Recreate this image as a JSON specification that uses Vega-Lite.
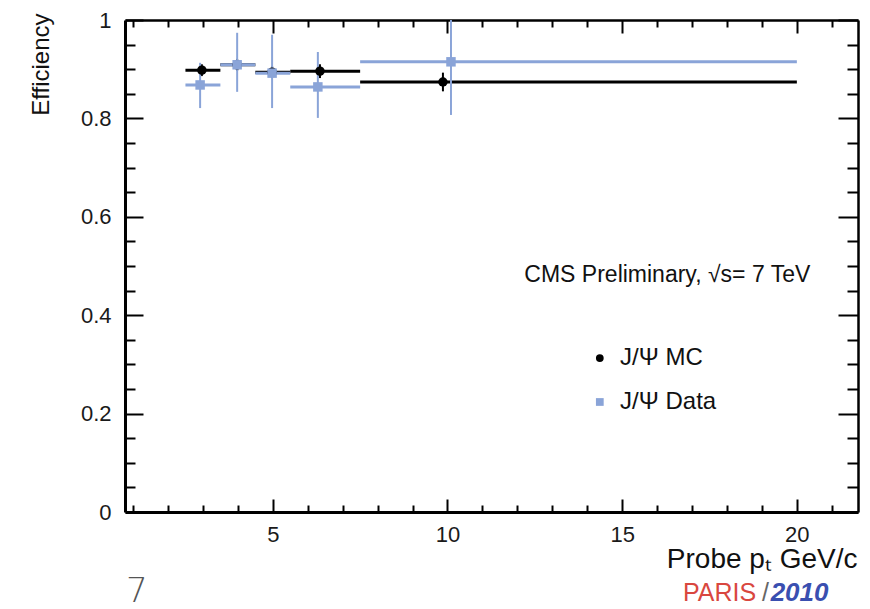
{
  "$schema": "https://vega.github.io/schema/vega-lite/v6.json",
  "width": 733,
  "height": 492,
  "autosize": {"type": "none"},
  "padding": {"left": 125, "top": 20, "right": 12, "bottom": 97},
  "background": "white",
  "config": {
    "font": "Liberation Sans",
    "view": {"stroke": null},
    "axis": {"domainColor": "#000000", "tickColor": "#000000", "labelColor": "#1a1a1a", "titleColor": "#111111", "labelFont": "Liberation Sans", "titleFont": "Liberation Sans", "titleFontWeight": "normal", "grid": false, "domainWidth": 2.5, "tickWidth": 2}
  },
  "datasets": {
    "eff": [
      {"series": "J/Ψ MC", "x": 2.97, "xlo": 2.5, "xhi": 3.5, "y": 0.898, "ylo": 0.886, "yhi": 0.910},
      {"series": "J/Ψ MC", "x": 3.98, "xlo": 3.5, "xhi": 4.5, "y": 0.909, "ylo": 0.897, "yhi": 0.921},
      {"series": "J/Ψ MC", "x": 4.98, "xlo": 4.5, "xhi": 5.5, "y": 0.894, "ylo": 0.882, "yhi": 0.906},
      {"series": "J/Ψ MC", "x": 6.35, "xlo": 5.5, "xhi": 7.5, "y": 0.896, "ylo": 0.882, "yhi": 0.910},
      {"series": "J/Ψ MC", "x": 9.87, "xlo": 7.5, "xhi": 20, "y": 0.874, "ylo": 0.855, "yhi": 0.893},
      {"series": "J/Ψ Data", "x": 2.92, "xlo": 2.5, "xhi": 3.5, "y": 0.868, "ylo": 0.821, "yhi": 0.913},
      {"series": "J/Ψ Data", "x": 3.98, "xlo": 3.5, "xhi": 4.5, "y": 0.909, "ylo": 0.854, "yhi": 0.974},
      {"series": "J/Ψ Data", "x": 4.98, "xlo": 4.5, "xhi": 5.5, "y": 0.892, "ylo": 0.821, "yhi": 0.970},
      {"series": "J/Ψ Data", "x": 6.29, "xlo": 5.5, "xhi": 7.5, "y": 0.864, "ylo": 0.801, "yhi": 0.935},
      {"series": "J/Ψ Data", "x": 10.1, "xlo": 7.5, "xhi": 20, "y": 0.915, "ylo": 0.807, "yhi": 1.0}
    ],
    "legend": [
      {"series": "J/Ψ MC", "x": 14.36, "tx": 14.94, "y": 0.313},
      {"series": "J/Ψ Data", "x": 14.36, "tx": 14.94, "y": 0.2236}
    ],
    "cms": [{"x": 12.2, "y": 0.482, "label": "CMS Preliminary, √s= 7 TeV"}],
    "page": [{"x": 0.8, "y": -0.183, "label": "7"}],
    "paris": [{"x": 16.74, "y": -0.181, "label": "PARIS"}],
    "slash": [{"x": 19.0, "y": -0.181, "label": "/"}],
    "year": [{"x": 19.25, "y": -0.181, "label": "2010"}]
  },
  "resolve": {"axis": {"x": "independent", "y": "independent"}},
  "layer": [
    {
      "data": {"name": "eff"},
      "mark": {"type": "rule", "strokeWidth": 3},
      "encoding": {
        "x": {"field": "xlo", "type": "quantitative", "scale": {"domain": [0.77, 21.75], "nice": false, "zero": false},
          "axis": {"orient": "bottom", "values": [5, 10, 15, 20], "ticks": false, "labelPadding": 12, "labelFontSize": 22, "domainWidth": 3,
            "title": "Probe pₜ GeV/c", "titleFontSize": 28, "titleAnchor": "end", "titleAlign": "right", "titleBaseline": "alphabetic", "titleX": 732, "titleY": 55}},
        "x2": {"field": "xhi"},
        "y": {"field": "y", "type": "quantitative", "scale": {"domain": [0, 1], "nice": false, "zero": false},
          "axis": {"orient": "left", "values": [0, 0.2, 0.4, 0.6, 0.8, 1], "ticks": false, "labelPadding": 14, "labelFontSize": 22, "domainWidth": 3,
            "labelExpr": "datum.value == 0 || datum.value == 1 ? format(datum.value, 'd') : format(datum.value, '.1f')",
            "title": "Efficiency", "titleFontSize": 24, "titleAngle": -90, "titleAlign": "right", "titleBaseline": "middle", "titleX": -84, "titleY": -7}},
        "stroke": {"field": "series", "type": "nominal", "scale": {"domain": ["J/Ψ MC", "J/Ψ Data"], "range": ["#000000", "#8aa4d8"]}, "legend": null}
      }
    },
    {
      "data": {"name": "eff"},
      "mark": {"type": "rule", "strokeWidth": 2},
      "encoding": {
        "x": {"field": "x", "type": "quantitative", "scale": {"domain": [0.77, 21.75], "nice": false, "zero": false},
          "axis": {"orient": "bottom", "values": [1,2,3,4,5,6,7,8,9,10,11,12,13,14,15,16,17,18,19,20,21], "labels": false, "domain": false, "title": null,
            "tickSize": {"condition": {"test": "datum.value % 5 === 0", "value": -13}, "value": -7}}},
        "y": {"field": "ylo", "type": "quantitative", "scale": {"domain": [0, 1], "nice": false, "zero": false},
          "axis": {"orient": "left", "values": [0,0.05,0.1,0.15,0.2,0.25,0.3,0.35,0.4,0.45,0.5,0.55,0.6,0.65,0.7,0.75,0.8,0.85,0.9,0.95,1], "labels": false, "domain": false, "title": null,
            "tickSize": {"condition": {"test": "abs(datum.value * 5 - round(datum.value * 5)) < 0.001", "value": -18}, "value": -10}}},
        "y2": {"field": "yhi"},
        "stroke": {"field": "series", "type": "nominal", "scale": {"domain": ["J/Ψ MC", "J/Ψ Data"], "range": ["#000000", "#8aa4d8"]}, "legend": null}
      }
    },
    {
      "data": {"name": "eff"},
      "mark": {"type": "point", "filled": true, "opacity": 1, "size": 90},
      "encoding": {
        "x": {"field": "x", "type": "quantitative", "scale": {"domain": [0.77, 21.75], "nice": false, "zero": false},
          "axis": {"orient": "top", "values": [1,2,3,4,5,6,7,8,9,10,11,12,13,14,15,16,17,18,19,20,21], "labels": false, "domain": true, "domainWidth": 2.5, "title": null,
            "tickSize": {"condition": {"test": "datum.value % 5 === 0", "value": -13}, "value": -7}}},
        "y": {"field": "y", "type": "quantitative", "scale": {"domain": [0, 1], "nice": false, "zero": false},
          "axis": {"orient": "right", "values": [0,0.05,0.1,0.15,0.2,0.25,0.3,0.35,0.4,0.45,0.5,0.55,0.6,0.65,0.7,0.75,0.8,0.85,0.9,0.95,1], "labels": false, "domain": true, "domainWidth": 2.5, "title": null,
            "tickSize": {"condition": {"test": "abs(datum.value * 5 - round(datum.value * 5)) < 0.001", "value": -20}, "value": -11}}},
        "color": {"field": "series", "type": "nominal", "scale": {"domain": ["J/Ψ MC", "J/Ψ Data"], "range": ["#000000", "#8aa4d8"]}, "legend": null},
        "shape": {"field": "series", "type": "nominal", "scale": {"domain": ["J/Ψ MC", "J/Ψ Data"], "range": ["circle", "square"]}, "legend": null}
      }
    },
    {
      "data": {"name": "legend"},
      "mark": {"type": "point", "filled": true, "opacity": 1, "size": 60},
      "encoding": {
        "x": {"field": "x", "type": "quantitative", "scale": {"domain": [0.77, 21.75], "nice": false, "zero": false}, "axis": null},
        "y": {"field": "y", "type": "quantitative", "scale": {"domain": [0, 1], "nice": false, "zero": false}, "axis": null},
        "color": {"field": "series", "type": "nominal", "scale": {"domain": ["J/Ψ MC", "J/Ψ Data"], "range": ["#000000", "#8aa4d8"]}, "legend": null},
        "shape": {"field": "series", "type": "nominal", "scale": {"domain": ["J/Ψ MC", "J/Ψ Data"], "range": ["circle", "square"]}, "legend": null}
      }
    },
    {
      "data": {"name": "legend"},
      "mark": {"type": "text", "align": "left", "baseline": "middle", "fontSize": 24, "color": "#111111", "font": "Liberation Sans"},
      "encoding": {
        "x": {"field": "tx", "type": "quantitative", "scale": {"domain": [0.77, 21.75], "nice": false, "zero": false}, "axis": null},
        "y": {"field": "y", "type": "quantitative", "scale": {"domain": [0, 1], "nice": false, "zero": false}, "axis": null},
        "text": {"field": "series"}
      }
    },
    {
      "data": {"name": "cms"},
      "mark": {"type": "text", "align": "left", "baseline": "middle", "fontSize": 23, "color": "#111111", "font": "Liberation Sans"},
      "encoding": {
        "x": {"field": "x", "type": "quantitative", "scale": {"domain": [0.77, 21.75], "nice": false, "zero": false}, "axis": null},
        "y": {"field": "y", "type": "quantitative", "scale": {"domain": [0, 1], "nice": false, "zero": false}, "axis": null},
        "text": {"field": "label"}
      }
    },
    {
      "data": {"name": "page"},
      "mark": {"type": "text", "align": "left", "baseline": "alphabetic", "fontSize": 34, "fontWeight": 200, "color": "#555555", "font": "DejaVu Sans"},
      "encoding": {
        "x": {"field": "x", "type": "quantitative", "scale": {"domain": [0.77, 21.75], "nice": false, "zero": false}, "axis": null},
        "y": {"field": "y", "type": "quantitative", "scale": {"domain": [0, 1], "nice": false, "zero": false}, "axis": null},
        "text": {"field": "label"}
      }
    },
    {
      "data": {"name": "paris"},
      "mark": {"type": "text", "align": "left", "baseline": "alphabetic", "fontSize": 25, "color": "#d9473f", "font": "Liberation Sans"},
      "encoding": {
        "x": {"field": "x", "type": "quantitative", "scale": {"domain": [0.77, 21.75], "nice": false, "zero": false}, "axis": null},
        "y": {"field": "y", "type": "quantitative", "scale": {"domain": [0, 1], "nice": false, "zero": false}, "axis": null},
        "text": {"field": "label"}
      }
    },
    {
      "data": {"name": "slash"},
      "mark": {"type": "text", "align": "left", "baseline": "alphabetic", "fontSize": 25, "color": "#666666", "font": "Liberation Sans"},
      "encoding": {
        "x": {"field": "x", "type": "quantitative", "scale": {"domain": [0.77, 21.75], "nice": false, "zero": false}, "axis": null},
        "y": {"field": "y", "type": "quantitative", "scale": {"domain": [0, 1], "nice": false, "zero": false}, "axis": null},
        "text": {"field": "label"}
      }
    },
    {
      "data": {"name": "year"},
      "mark": {"type": "text", "align": "left", "baseline": "alphabetic", "fontSize": 26, "fontStyle": "italic", "fontWeight": "bold", "color": "#3a4fb0", "font": "Liberation Sans"},
      "encoding": {
        "x": {"field": "x", "type": "quantitative", "scale": {"domain": [0.77, 21.75], "nice": false, "zero": false}, "axis": null},
        "y": {"field": "y", "type": "quantitative", "scale": {"domain": [0, 1], "nice": false, "zero": false}, "axis": null},
        "text": {"field": "label"}
      }
    }
  ]
}
